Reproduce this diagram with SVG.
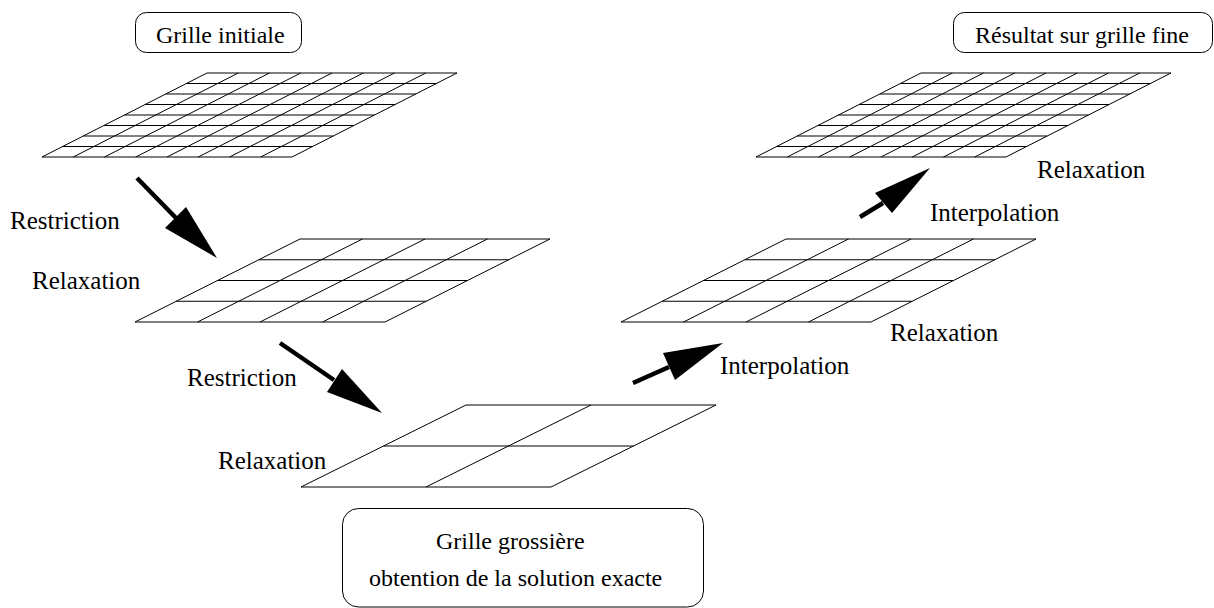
<svg xmlns="http://www.w3.org/2000/svg" width="1214" height="608" viewBox="0 0 1214 608">
<style>
.grid{fill:none;stroke:#000;stroke-width:1}
.box{fill:#fff;stroke:#000;stroke-width:1}
.lbl{font-family:"Liberation Serif","Times New Roman",serif;font-size:24px;fill:#000}
.step{font-size:25px}
.shaft{stroke:#000;stroke-width:4.5;fill:none}
.head{fill:#000;stroke:none}
</style>
<rect width="1214" height="608" fill="#fff"/>
<g id="box-initiale">
<rect class="box" x="135.5" y="12.5" width="166" height="40" rx="11"/>
<text class="lbl" x="156" y="43">Grille initiale</text>
</g>
<g id="box-resultat">
<rect class="box" x="953.5" y="12.5" width="259" height="40" rx="11"/>
<text class="lbl" x="975" y="43">Résultat sur grille fine</text>
</g>
<g id="box-grossiere">
<rect class="box" x="342.5" y="508.5" width="361" height="98.5" rx="16"/>
<text class="lbl" x="436" y="549">Grille grossière</text>
<text class="lbl" x="369" y="586">obtention de la solution exacte</text>
</g>
<g id="grid-fine-initiale" class="grid">
<path d="M207 73H457M186.375 83.5H436.375M165.75 94H415.75M145.125 104.5H395.125M124.5 115H374.5M103.875 125.5H353.875M83.25 136H333.25M62.625 146.5H312.625M42 157H292
M42 157L207 73M73.25 157L238.25 73M104.5 157L269.5 73M135.75 157L300.75 73M167 157L332 73M198.25 157L363.25 73M229.5 157L394.5 73M260.75 157L425.75 73M292 157L457 73"/>
</g>
<g id="grid-fine-resultat" class="grid">
<path d="M921 73H1171M900.375 83.5H1150.375M879.75 94H1129.75M859.125 104.5H1109.125M838.5 115H1088.5M817.875 125.5H1067.875M797.25 136H1047.25M776.625 146.5H1026.625M756 157H1006
M756 157L921 73M787.25 157L952.25 73M818.5 157L983.5 73M849.75 157L1014.75 73M881 157L1046 73M912.25 157L1077.25 73M943.5 157L1108.5 73M974.75 157L1139.75 73M1006 157L1171 73"/>
</g>
<g id="grid-moyenne-gauche" class="grid">
<path d="M300 239H550M258.75 259.75H508.75M217.5 280.5H467.5M176.25 301.25H426.25M135 322H385
M135 322L300 239M197.5 322L362.5 239M260 322L425 239M322.5 322L487.5 239M385 322L550 239"/>
</g>
<g id="grid-moyenne-droite" class="grid">
<path d="M786 239H1036M744.75 259.75H994.75M703.5 280.5H953.5M662.25 301.25H912.25M621 322H871
M621 322L786 239M683.5 322L848.5 239M746 322L911 239M808.5 322L973.5 239M871 322L1036 239"/>
</g>
<g id="grid-grossiere" class="grid">
<path d="M466 405H716M383.5 446H633.5M301 487H551M301 487L466 405M426 487L591 405M551 487L716 405"/>
</g>
<g id="labels">
<text class="lbl step" x="10" y="229">Restriction</text>
<text class="lbl step" x="32" y="289">Relaxation</text>
<text class="lbl step" x="187" y="386">Restriction</text>
<text class="lbl step" x="218" y="469">Relaxation</text>
<text class="lbl step" x="720" y="374">Interpolation</text>
<text class="lbl step" x="890" y="341">Relaxation</text>
<text class="lbl step" x="930" y="221">Interpolation</text>
<text class="lbl step" x="1037" y="178">Relaxation</text>
</g>
<g id="connectors">
<line class="shaft" x1="137" y1="178" x2="176" y2="218"/>
<polygon class="head" points="165,228 186,207 217,258"/>
<line class="shaft" x1="280" y1="343" x2="334" y2="380"/>
<polygon class="head" points="327,392 342,369 382,413"/>
<line class="shaft" x1="633" y1="383" x2="669" y2="367"/>
<polygon class="head" points="663,353 675,380 723,343"/>
<line class="shaft" x1="860" y1="217" x2="883" y2="203"/>
<polygon class="head" points="875,193 892,213 930,168"/>
</g>
</svg>
